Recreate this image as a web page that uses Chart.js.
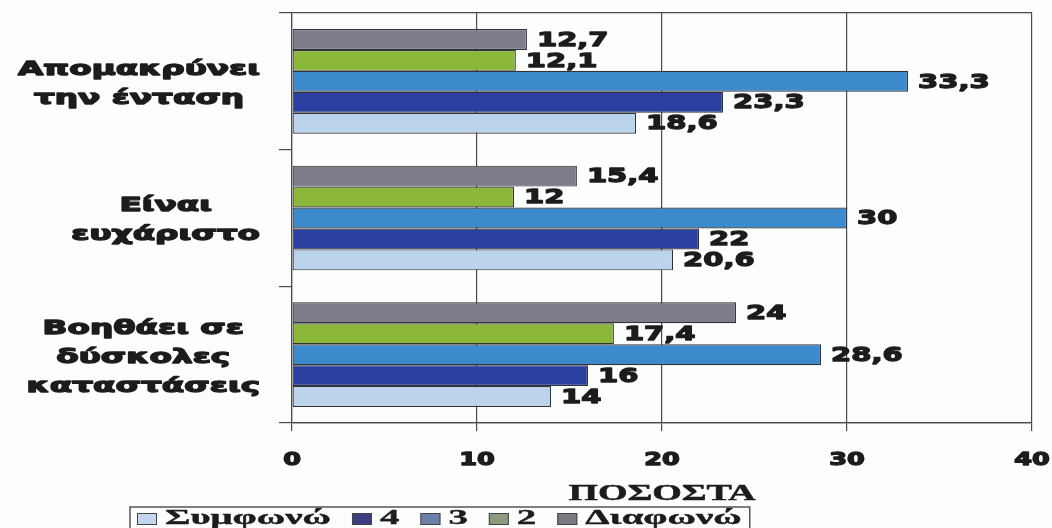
<!DOCTYPE html>
<html>
<head>
<meta charset="utf-8">
<title>ΠΟΣΟΣΤΑ</title>
<script src="https://cdn.jsdelivr.net/npm/chart.js@4/dist/chart.umd.min.js"></script>
<style>
  html, body { margin: 0; padding: 0; background: #fcfdfd; }
  #wrap { width: 1052px; height: 528px; position: relative; overflow: hidden; }
  canvas { display: block; }
</style>
</head>
<body>
<div id="wrap"><canvas id="chart" width="1052" height="528"></canvas></div>
<script>
// Statements (each one drawn as a group of horizontal bars)
const categories = [
  ['Απομακρύνει', 'την ένταση'],
  ['Είναι', 'ευχάριστο'],
  ['Βοηθάει σε', 'δύσκολες', 'καταστάσεις']
];

// Answer scale, top bar to bottom bar inside each group
const seriesNames = ['Διαφωνώ', '2', '3', '4', 'Συμφωνώ'];

// Percentages per statement
const disagree = [12.7, 15.4, 24];
const level2   = [12.1, 12, 17.4];
const level3   = [33.3, 30, 28.6];
const level4   = [23.3, 22, 16];
const agree    = [18.6, 20.6, 14];

const xTicks = [0, 10, 20, 30, 40];
const axisTitle = 'ΠΟΣΟΣΤΑ';

// Styling
const barColors    = ['#7d7c88', '#8cb83a', '#3b8acb', '#2b40a0', '#bcd3ec'];
const legendColors = ['#7a7a82', '#8c9a82', '#6c80aa', '#3c3e80', '#c4d6ee'];
const inkColor  = '#1c1c1c';
const lineColor = '#4a4a4a';

const seriesValues = [disagree, level2, level3, level4, agree];

// Draws heavy text stretched horizontally by sx
function wideText(ctx, text, x, y, sx, align, weight) {
  const w = ctx.measureText(text).width * sx;
  const left = align === 'center' ? x - w / 2 : (align === 'right' ? x - w : x);
  ctx.save();
  ctx.translate(left, y);
  ctx.scale(sx, 1);
  ctx.textAlign = 'left';
  ctx.fillText(text, 0, 0);
  if (weight) {
    ctx.strokeStyle = ctx.fillStyle;
    ctx.lineWidth = weight;
    ctx.lineJoin = 'round';
    ctx.strokeText(text, 0, 0);
  }
  ctx.restore();
  return w;
}

const fmt = v => String(v).replace('.', ',');

const textPlugin = {
  id: 'textLayer',
  afterDraw(chart) {
    const ctx = chart.ctx;
    const xs = chart.scales.x, ys = chart.scales.y;
    ctx.save();
    ctx.fillStyle = inkColor;
    ctx.textBaseline = 'middle';

    // value labels at bar ends
    ctx.font = 'bold 20px "DejaVu Sans"';
    chart.data.datasets.forEach((ds, di) => {
      const meta = chart.getDatasetMeta(di);
      meta.data.forEach((bar, i) => {
        wideText(ctx, fmt(ds.data[i]), bar.x + 10, bar.y + 1, 1.45, 'left', 1.3);
      });
    });

    // category labels, block right-aligned, lines centred in block
    ctx.font = 'bold 19px "DejaVu Sans"';
    const sxCat = 1.72, lh = 29;
    categories.forEach((lines, i) => {
      const cy = ys.getPixelForValue(i) + 3;
      const widths = lines.map(t => ctx.measureText(t).width * sxCat);
      const blockW = Math.max(...widths);
      const right = xs.left - 32;
      const cx = right - blockW / 2;
      lines.forEach((t, k) => {
        const y = cy + (k - (lines.length - 1) / 2) * lh;
        wideText(ctx, t, cx, y, sxCat, 'center', 1.3);
      });
    });

    // x tick labels
    ctx.font = 'bold 17px "DejaVu Sans"';
    xTicks.forEach(v => {
      wideText(ctx, String(v), xs.getPixelForValue(v), xs.bottom + 30, 1.5, 'center', 1.3);
    });

    // axis title
    ctx.font = 'bold 23px "Liberation Serif"';
    wideText(ctx, axisTitle, (xs.left + xs.right) / 2, 494, 1.65, 'center', 0.5);

    // legend box
    ctx.font = 'bold 21px "Liberation Serif"';
    const order = [4, 3, 2, 1, 0];
    let x = 137;
    const ly = 519;
    const gap = 21;
    order.forEach(di => {
      ctx.fillStyle = legendColors[di];
      ctx.fillRect(x, ly - 6, 20, 12);
      ctx.strokeStyle = '#444';
      ctx.lineWidth = 1;
      ctx.strokeRect(x + 0.5, ly - 5.5, 19, 11);
      ctx.fillStyle = inkColor;
      const w = wideText(ctx, seriesNames[di], x + 28, ly, 1.85, 'left', 0.4);
      x = x + 28 + w + gap;
    });
    ctx.strokeStyle = '#555';
    ctx.lineWidth = 1.5;
    ctx.strokeRect(130, 507, x - gap + 8 - 130, 30);
    ctx.restore();
  }
};

new Chart(document.getElementById('chart'), {
  type: 'bar',
  data: {
    labels: categories,
    datasets: seriesValues.map((vals, i) => ({
      label: seriesNames[i],
      data: vals,
      backgroundColor: barColors[i],
      borderColor: '#33333a',
      borderWidth: 1.2,
      borderSkipped: false,
      categoryPercentage: 0.766,
      barPercentage: 1.0
    }))
  },
  options: {
    indexAxis: 'y',
    responsive: false,
    animation: false,
    layout: { padding: { left: 279, right: 20, top: 13, bottom: 97 } },
    plugins: { legend: { display: false }, tooltip: { enabled: false } },
    scales: {
      x: {
        type: 'linear',
        min: 0, max: 40,
        ticks: { stepSize: 10, display: false },
        grid: { color: lineColor, lineWidth: 1.2, tickLength: 8, drawTicks: true },
        border: { color: lineColor, width: 1.2 }
      },
      y: {
        type: 'category',
        ticks: { display: false },
        grid: {
          offset: true,
          color: c => (c.index === 0 || c.index === undefined) ? lineColor : 'rgba(0,0,0,0)',
          tickColor: lineColor,
          lineWidth: 1.2,
          tickLength: 13
        },
        border: { color: lineColor, width: 1.2 }
      }
    }
  },
  plugins: [textPlugin]
});
</script>
</body>
</html>
